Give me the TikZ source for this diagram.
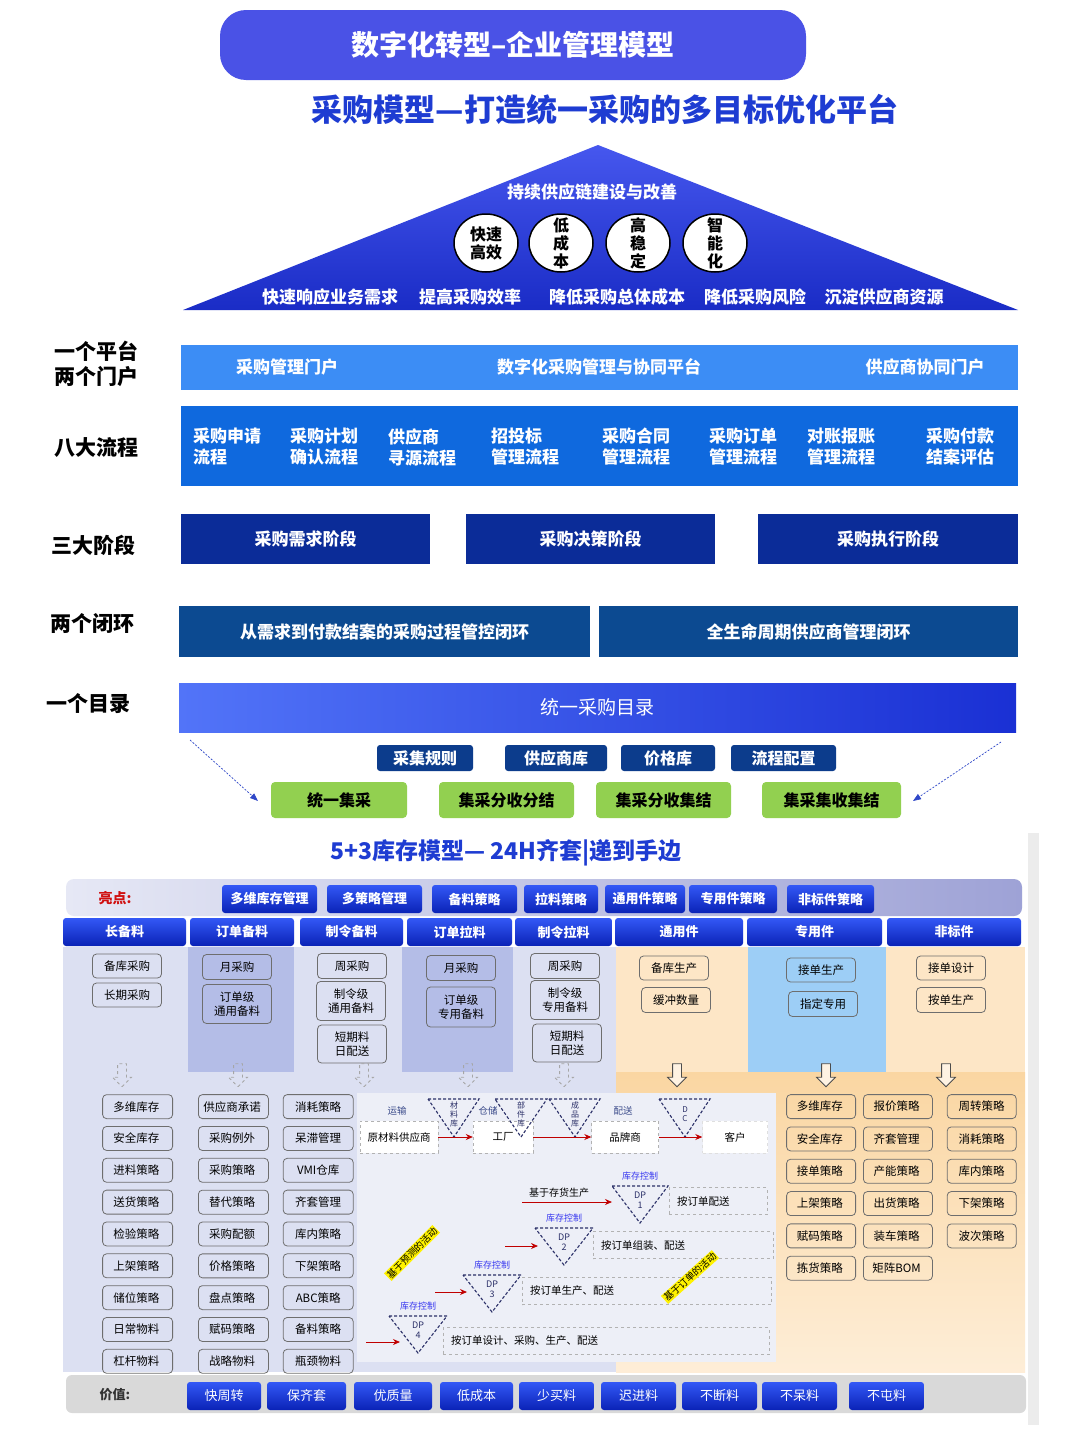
\documentclass[tikz,border=0pt]{standalone}
\usepackage{fontspec}
\setmainfont{Noto Sans CJK SC}
\usetikzlibrary{arrows.meta,positioning,shapes.geometric,shapes.arrows,matrix,calc}

\definecolor{titlebg}{HTML}{4A52E6}
\definecolor{subblue}{HTML}{1E3CD2}
\definecolor{tritop}{HTML}{4657EE}
\definecolor{tribot}{HTML}{1A2CC6}
\definecolor{platblue}{HTML}{3C8DF5}
\definecolor{flowblue}{HTML}{0F69DE}
\definecolor{stagenavy}{HTML}{0B2C98}
\definecolor{loopnavy}{HTML}{0C4A91}
\definecolor{catleft}{HTML}{5274F8}
\definecolor{catright}{HTML}{1A30D4}
\definecolor{dictnavy}{HTML}{0C3C8C}
\definecolor{leafgreen}{HTML}{92D050}
\definecolor{hintblue}{HTML}{2F47C8}
\definecolor{btntop}{HTML}{3358F6}
\definecolor{btnbot}{HTML}{0A22B6}
\definecolor{hlleft}{HTML}{E6E8F5}
\definecolor{hlright}{HTML}{9EA2D6}
\definecolor{hlred}{HTML}{D01010}
\definecolor{lav}{HTML}{DCE0F2}
\definecolor{lavdark}{HTML}{B4BDE7}
\definecolor{peach}{HTML}{FDE6C6}
\definecolor{peachdeep}{HTML}{FAD6A2}
\definecolor{skyblue}{HTML}{9DCEF6}
\definecolor{panelgray}{HTML}{EDEFF7}
\definecolor{dpnavy}{HTML}{2B3068}
\definecolor{flowred}{HTML}{C00000}
\definecolor{ctrlblue}{HTML}{3535F0}
\definecolor{chainlbl}{HTML}{3A4A8A}
\definecolor{itemgray}{HTML}{6E6E6E}
\definecolor{valuegray}{HTML}{D9D9D9}

\tikzset{
  sidelabel/.style={font=\bfseries\fontsize{21}{25}\selectfont, align=center},
  pyrtext/.style={text=white, font=\bfseries\fontsize{17}{20}\selectfont},
  disc/.style={ellipse, draw=black, line width=1.5pt, fill=white, minimum width=64pt, minimum height=58pt},
  disctext/.style={align=center, font=\bfseries\fontsize{16}{18}\selectfont},
  band/.style={inner sep=0pt, text=white, font=\bfseries\fontsize{17}{21}\selectfont},
  tag/.style={rounded corners=3pt, text=white, inner sep=0pt, font=\bfseries\fontsize{16}{19}\selectfont},
  leaf/.style={rounded corners=4pt, fill=leafgreen, inner sep=0pt, font=\bfseries\fontsize{16}{19}\selectfont},
  hint/.style={draw=hintblue, line width=0.7pt, dash pattern=on 2pt off 1.5pt, -{Triangle[length=8pt,width=6pt]}},
  btn/.style={rounded corners=3pt, top color=btntop, bottom color=btnbot, text=white, inner sep=0pt, font=\bfseries\fontsize{13}{15}\selectfont},
  item/.style={draw=itemgray, rounded corners=4pt, line width=0.8pt, inner sep=0pt, minimum width=69pt, minimum height=24pt, align=center, font=\fontsize{11.5}{13.5}\selectfont},
  darr/.style={single arrow, shape border rotate=270, line width=0.8pt, minimum height=23pt, single arrow head extend=5pt, inner sep=4pt},
  chainbox/.style={draw=gray!60, dashed, fill=white, minimum height=32pt, inner sep=0pt, font=\fontsize{10.5}{12}\selectfont},
  chainlabel/.style={text=chainlbl, font=\fontsize{9.5}{11}\selectfont},
  stocktri/.style={draw=dpnavy, line width=1.1pt, dash pattern=on 3pt off 2pt},
  stocktext/.style={text=dpnavy, align=center, font=\fontsize{8}{9}\selectfont},
  ctrl/.style={text=ctrlblue, font=\fontsize{9}{11}\selectfont},
  dprow/.style={draw=gray!60, dashed, inner sep=0pt, minimum height=27pt},
  dptext/.style={anchor=west, inner sep=0pt, font=\fontsize{10.5}{12}\selectfont},
  flowarr/.style={draw=flowred, line width=0.8pt, -{Stealth[length=7pt,width=6pt]}},
  memo/.style={fill=yellow, inner sep=1pt, font=\fontsize{9.5}{11}\selectfont}
}

\begin{document}
\begin{tikzpicture}[x=1pt,y=-1pt,>=stealth]
\useasboundingbox (0,0) rectangle (1080,1440);
\fill[white] (0,0) rectangle (1080,1440);

% header
\node[fill=titlebg, rounded corners=26pt, text=white, minimum width=586pt, minimum height=70pt, font=\bfseries\fontsize{28}{32}\selectfont] (title) at (513,45) {数字化转型–企业管理模型};
\node[text=subblue, font=\bfseries\fontsize{31}{36}\selectfont] (subtitle) at (605,110) {采购模型—打造统一采购的多目标优化平台};

% pyramid
\shade[top color=tritop, bottom color=tribot] (598,145) -- (1018,310) -- (183,310) -- cycle;
\node[pyrtext] (goal) at (592,192) {持续供应链建设与改善};
\foreach \t/\x [count=\i] in {快速\\高效/486, 低\\成\\本/561, 高\\稳\\定/638, 智\\能\\化/715}
{
  \node[disc] (disc\i) at (\x,243) {};
  \node[disctext] (disct\i) at (disc\i) {\t};
}
\foreach \t/\x [count=\i] in {快速响应业务需求/330, 提高采购效率/470, 降低采购总体成本/617, 降低采购风险/755, 沉淀供应商资源/884}
  \node[pyrtext] (aim\i) at (\x,297) {\t};

% side labels
\node[sidelabel] (lplat) at (96,364) {一个平台\\两个门户};
\node[sidelabel] (lflow) at (96,447) {八大流程};
\node[sidelabel] (lstage) at (93,545) {三大阶段};
\node[sidelabel] (lloop) at (92,624) {两个闭环};
\node[sidelabel] (lcat) at (88,704) {一个目录};

% platform and flows
\node[band, fill=platblue, minimum width=837pt, minimum height=45pt] (plat) at (599.5,367.5) {};
\node[band] (portal1) at (287,367) {采购管理门户};
\node[band] (core) at (599,367) {数字化采购管理与协同平台};
\node[band] (portal2) at (925,367) {供应商协同门户};

\node[band, fill=flowblue, minimum width=837pt, minimum height=80pt] (flows) at (599.5,446) {};
\foreach \t/\x [count=\i] in {采购申请\\流程/193, 采购计划\\确认流程/290, 供应商\\寻源流程/388, 招投标\\管理流程/491, 采购合同\\管理流程/602, 采购订单\\管理流程/709, 对账报账\\管理流程/807, 采购付款\\结案评估/926}
  \node[band, align=left, anchor=west] (flow\i) at (\x,447) {\t};

\foreach \t/\a/\b [count=\i] in {采购需求阶段/181/430, 采购决策阶段/466/715, 采购执行阶段/758/1018}
  \node[band, fill=stagenavy, minimum width=\b pt-\a pt, minimum height=50pt] (stage\i) at ({(\a+\b)/2},539) {\t};

\node[band, fill=loopnavy, minimum width=411pt, minimum height=51pt] (loop1) at (384.5,631.5) {从需求到付款结案的采购过程管控闭环};
\node[band, fill=loopnavy, minimum width=419pt, minimum height=51pt] (loop2) at (808.5,631.5) {全生命周期供应商管理闭环};

\node[band, left color=catleft, right color=catright, minimum width=837pt, minimum height=49pt, font=\fontsize{19}{22}\selectfont] (catalog) at (597.5,707.5) {统一采购目录};

\foreach \t/\a/\b [count=\i] in {采集规则/377/473, 供应商库/505/607, 价格库/621/715, 流程配置/731/836}
  \node[tag, fill=dictnavy, minimum width=\b pt-\a pt, minimum height=26pt] (dict\i) at ({(\a+\b)/2},758) {\t};
\foreach \t/\a/\b [count=\i] in {统一集采/271/407, 集采分收分结/439/574, 集采分收集结/596/731, 集采集收集结/762/901}
  \node[leaf, minimum width=\b pt-\a pt, minimum height=36pt] (mode\i) at ({(\a+\b)/2},800) {\t};

\coordinate (hintL) at (190,740);
\coordinate (hintLe) at (258,801);
\coordinate (hintR) at (1001,742);
\coordinate (hintRe) at (913,801);
\draw[hint] (hintL) -- (hintLe);
\draw[hint] (hintR) -- (hintRe);

\node[text=subblue, font=\bfseries\fontsize{23}{27}\selectfont] (model) at (506,853) {5+3库存模型— 24H齐套|递到手边};

% inventory model
\fill[gray!15] (1028,833) rectangle (1039,1425);
\shade[rounded corners=8pt, left color=hlleft, right color=hlright] (66,879) rectangle (1022,916);
\node[text=hlred, font=\bfseries\fontsize{14}{16}\selectfont] (hl) at (115,898) {亮点:};
\foreach \t/\a/\b [count=\i] in {多维库存管理/222/317, 多策略管理/327/422, 备料策略/432/517, 拉料策略/524/598, 通用件策略/605/685, 专用件策略/689/777, 非标件策略/787/874}
  \node[btn, minimum width=\b pt-\a pt, minimum height=28pt] (hl\i) at ({(\a+\b)/2},899) {\t};

\fill[lav] (63,947) rectangle (616,1372);
\fill[peach] (616,947) rectangle (1025,1072);
\shade[top color=peachdeep, bottom color=peach!70] (616,1072) rectangle (1025,1372);
\fill[lavdark] (188,947) rectangle (294,1072);
\fill[lavdark] (402,947) rectangle (513,1072);
\fill[skyblue] (748,947) rectangle (886,1072);

\foreach \t/\a/\b [count=\i] in {长备料/63/186, 订单备料/190/294, 制令备料/300/403, 订单拉料/407/512, 制令拉料/515/612, 通用件/615/743, 专用件/747/882, 非标件/887/1021}
  \node[btn, minimum width=\b pt-\a pt, minimum height=28pt] (col\i) at ({(\a+\b)/2},932) {\t};

\foreach \t/\x/\y/\h [count=\i] in {
  备库采购/127/966/24, 长期采购/127/995/24,
  月采购/237/967/25, 订单级\\通用备料/237/1004/39,
  周采购/352/966/25, 制令级\\通用备料/351/1001/39, 短期料\\日配送/352/1044/38,
  月采购/461/968/25, 订单级\\专用备料/461/1007/40,
  周采购/565/966/25, 制令级\\专用备料/565/1000/39, 短期料\\日配送/567/1043/38,
  备库生产/674/968/24, 缓冲数量/676/1000/25,
  接单生产/821/970/24, 指定专用/823/1004/25,
  接单设计/951/968/24, 按单生产/951/1000/25}
  \node[item, minimum height=\h pt] (pick\i) at (\x,\y) {\t};

\foreach \x in {122,238,364,468,564}
  \node[darr, draw=gray!70, dashed] (down\x) at (\x,1073) {};
\foreach \x in {677,826,946}
  \node[darr, draw=black!70, fill=peach!50] (down\x) at (\x,1073) {};

\matrix[matrix of nodes, ampersand replacement=\&, nodes={item, minimum width=70pt}, row sep=7pt, column sep=14pt, anchor=north west, inner sep=0pt] (leftgrid) at (102,1094) {
  多维库存 \&[11pt] 供应商承诺 \& 消耗策略\\
  安全库存 \& 采购例外 \& 呆滞管理\\
  进料策略 \& 采购策略 \& VMI仓库\\
  送货策略 \& 替代策略 \& 齐套管理\\
  检验策略 \& 采购配额 \& 库内策略\\
  上架策略 \& 价格策略 \& 下架策略\\
  储位策略 \& 盘点策略 \& ABC策略\\
  日常物料 \& 赋码策略 \& 备料策略\\
  杠杆物料 \& 战略物料 \& 瓶颈物料\\
};

\matrix[matrix of nodes, ampersand replacement=\&, nodes={item}, row sep=7.5pt, column sep=7pt, anchor=north west, inner sep=0pt] (rightgrid) at (786,1094) {
  多维库存 \& 报价策略 \&[7pt] 周转策略\\
  安全库存 \& 齐套管理 \& 消耗策略\\
  接单策略 \& 产能策略 \& 库内策略\\
  上架策略 \& 出货策略 \& 下架策略\\
  赋码策略 \& 装车策略 \& 波次策略\\
  拣货策略 \& 矩阵BOM \& \\
};

% decoupling points
\fill[panelgray] (357,1093) rectangle (776,1362);
\node[chainbox, minimum width=78pt] (raw) at (399,1137) {原材料供应商};
\node[chainbox, minimum width=60pt] (fac) at (503,1137) {工厂};
\node[chainbox, minimum width=67pt] (brand) at (625,1137) {品牌商};
\node[chainbox, minimum width=65pt, draw=gray!25] (cust) at (735,1137) {客户};
\node[chainlabel] (lbl1) at (397,1111) {运输};
\node[chainlabel] (lbl2) at (488,1111) {仓储};
\node[chainlabel] (lbl3) at (623,1111) {配送};
\foreach \a/\b/\c/\t [count=\i] in {428/479/454/材\\料\\库, 495/547/521/部\\件\\库, 549/600/575/成\\品\\库, 659/710/685/D\\C}
{
  \draw[stocktri] (\a,1099) -- (\b,1099) -- (\c,1137) -- cycle;
  \node[stocktext] (stock\i) at (\c,1114) {\t};
}
\draw[flowarr] (raw) -- (fac);
\draw[flowarr] (fac) -- (brand);
\draw[flowarr] (brand) -- (cust);

\foreach \l/\r/\c/\ty/\ay/\fx/\fy/\ex/\bl/\br/\t [count=\i] in {
  612/668/640/1186/1223/522/1202/612/669/767/按订单配送,
  535/593/564/1228/1265/505/1246/538/593/773/按订单组装、配送,
  463/521/492/1275/1312/435/1292/467/522/771/按订单生产、配送,
  389/447/418/1316/1353/366/1342/400/443/769/按订单设计、采购、生产、配送}
{
  \coordinate (dp\i-nw) at (\l,\ty);
  \coordinate (dp\i-ne) at (\r,\ty);
  \coordinate (dp\i-s) at (\c,\ay);
  \draw[stocktri] (dp\i-nw) -- (dp\i-ne) -- (dp\i-s) -- cycle;
  \node[stocktext, font=\fontsize{9}{10.5}\selectfont] (dp\i) at (\c,\ty+14) {DP\\\i};
  \node[ctrl] (ctrl\i) at (\c,\ty-10) {库存控制};
  \node[dprow, minimum width=\br pt-\bl pt] (act\i) at ({(\bl+\br)/2},\fy-1) {};
  \node[dptext] (actt\i) at ([xshift=8pt]act\i.west) {\t};
  \coordinate (feed\i) at (\fx,\fy);
  \coordinate (dp\i-in) at (\ex,\fy);
  \draw[flowarr] (feed\i) -- (dp\i-in);
}
\node[font=\fontsize{10}{12}\selectfont, anchor=south] (stockmade) at (559,1201) {基于存货生产};
\node[memo, rotate=45] (memo1) at (412,1253) {基于预测的活动};
\node[memo, rotate=42] (memo2) at (690,1277) {基于订单的活动};

% value row
\fill[valuegray, rounded corners=6pt] (66,1375) rectangle (1026,1413);
\node[text=black!80, font=\bfseries\fontsize{13}{15}\selectfont] (worth) at (115,1395) {价值:};
\foreach \t/\a/\b [count=\i] in {快周转/187/261, 保齐套/267/346, 优质量/354/432, 低成本/440/513, 少买料/519/594, 迟进料/601/676, 不断料/682/757, 不呆料/762/837, 不屯料/849/924}
  \node[btn, font=\fontsize{13}{15}\selectfont, minimum width=\b pt-\a pt, minimum height=28pt] (gain\i) at ({(\a+\b)/2},1396) {\t};
\end{tikzpicture}
\end{document}
